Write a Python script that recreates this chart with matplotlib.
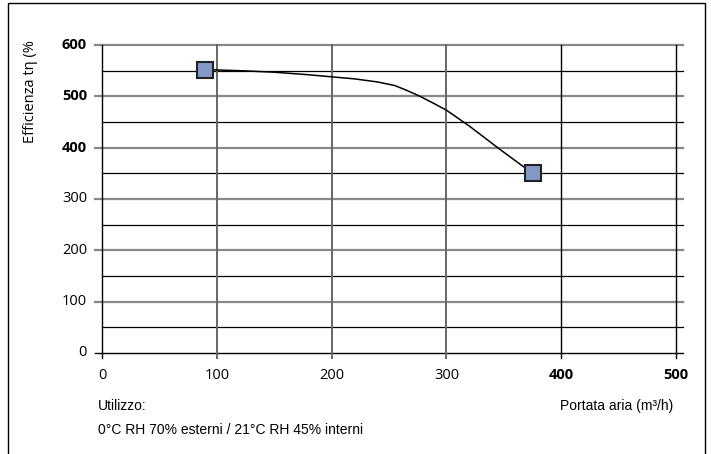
import matplotlib.pyplot as plt
import numpy as np
from matplotlib.patches import Rectangle

# curve
flow = [90, 120, 150, 180, 200, 220, 240, 255, 265, 277, 290, 300, 320, 347, 375]
eff = [552, 550, 547, 542, 538, 534, 528, 521, 512, 500, 485, 473, 442, 396, 350]

# measured end points
point_x = [90, 375]
point_y = [552, 350]

x_ticks = [0, 100, 200, 300, 400, 500]
y_ticks = [0, 100, 200, 300, 400, 500, 600]
y_minor = [50, 150, 250, 350, 450, 550]
bold_x = [400, 500]
bold_y = [400, 500, 600]

fig = plt.figure(figsize=(7.11, 4.54), dpi=100)
ax = fig.add_axes([0.1435, 0.2225, 0.8073, 0.6784])
ax.set_xlim(0, 500)
ax.set_ylim(0, 600)
for s in ax.spines.values():
    s.set_visible(False)
ax.set_xticks([])
ax.set_yticks([])

# grid lines, drawn past the axes like the original
for y in y_ticks:
    c = 'black' if y == 0 else '#888888'
    lw = 1.0 if y == 0 else 1.6
    ax.plot([-6, 506], [y, y], color=c, lw=lw, clip_on=False, zorder=1)
for y in y_minor:
    ax.plot([0, 506], [y, y], color='black', lw=0.9, clip_on=False, zorder=1)
for x in x_ticks:
    c = '#666666' if x in (100, 200, 300) else 'black'
    lw = 1.4 if x in (100, 200, 300) else 1.0
    ax.plot([x, x], [-9, 600], color=c, lw=lw, clip_on=False, zorder=1)

# tick labels
for x in x_ticks:
    ax.text(x, -43, str(x), ha='center', va='center', fontsize=10.5, family='Open Sans',
            fontweight='bold' if x in bold_x else 'normal')
for y in y_ticks:
    ax.text(-13, y, str(y), ha='right', va='center', fontsize=10.5, family='Open Sans',
            fontweight='bold' if y in bold_y else 'normal')

# curve and markers
ax.plot(flow, eff, color='black', lw=1.1, zorder=3)
ax.plot(point_x, point_y, ls='none', marker='s', markersize=11,
        markerfacecolor='#8498c8', markeredgecolor='#222222', markeredgewidth=1.5, zorder=4)

fig.text(31 / 711, 1 - 92 / 454, 'Efficienza tη (%', rotation=90, ha='center', va='center',
         fontsize=10.5, family='Open Sans')

fig.text(98 / 711, 1 - 406 / 454, 'Utilizzo:', ha='left', va='center',
         fontsize=10, family='Liberation Sans')
fig.text(98 / 711, 1 - 430 / 454, '0°C RH 70% esterni / 21°C RH 45% interni', ha='left', va='center',
         fontsize=10, family='Liberation Sans')
fig.text(673 / 711, 1 - 406 / 454, 'Portata aria (m³/h)', ha='right', va='center',
         fontsize=10, family='Liberation Sans')

# frame round the figure
fig.patches.append(Rectangle((8 / 711, -0.1), 697 / 711, 1.1 - 3 / 454, transform=fig.transFigure,
                             fill=False, edgecolor='black', lw=1.0))

plt.savefig('out.png', dpi=100)
